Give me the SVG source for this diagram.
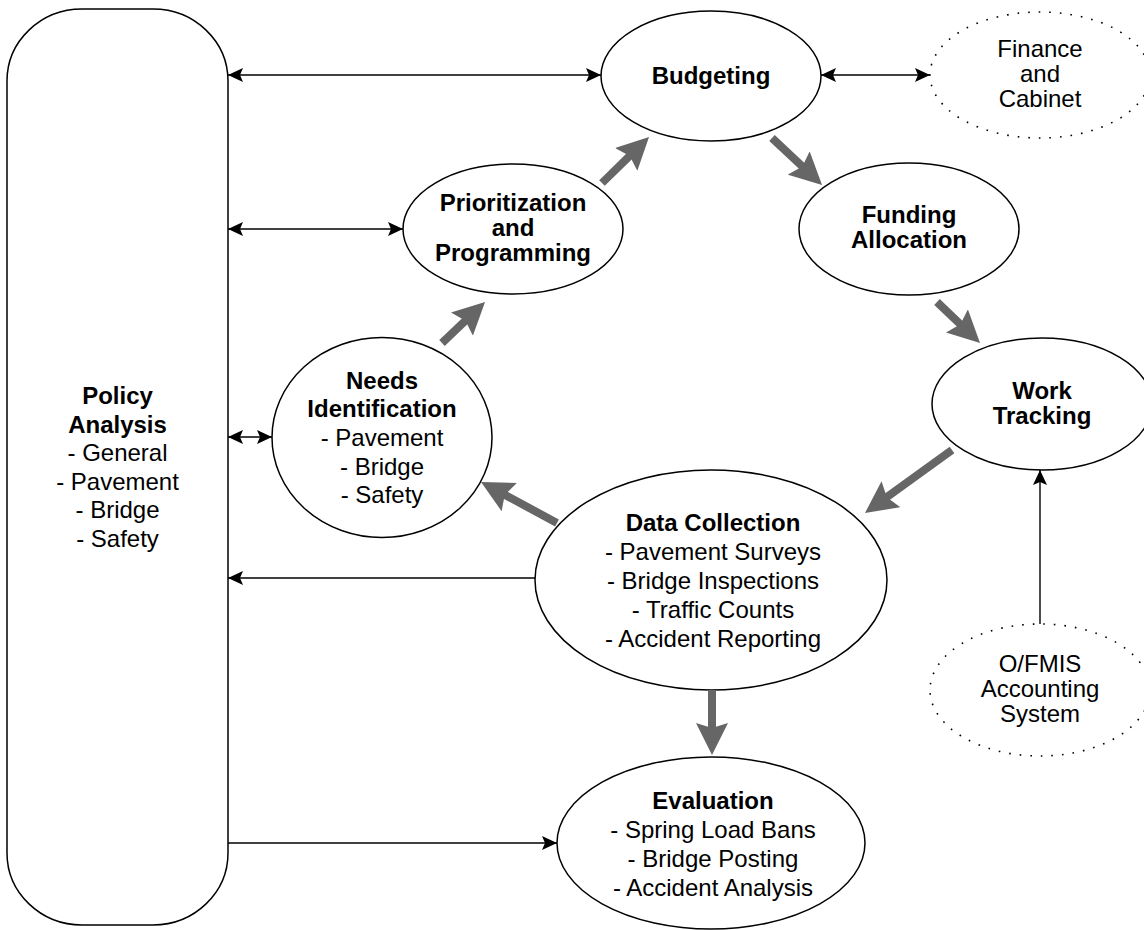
<svg xmlns="http://www.w3.org/2000/svg" width="1144" height="930" viewBox="0 0 1144 930">
<style>
.node{fill:#fff;stroke:#000;stroke-width:1.5}
.dot{fill:#fff;stroke:#000;stroke-width:1.6;stroke-dasharray:1.6 9;stroke-linecap:butt}
text{font-family:"Liberation Sans",Arial,sans-serif;font-size:24px;text-anchor:middle;fill:#000}
.b{font-weight:bold}
.thin{stroke:#000;stroke-width:1.4;fill:none}
.thick{stroke:#666;stroke-width:8;fill:none}
</style>
<defs>
<marker id="ah" viewBox="0 0 15 14" markerWidth="15" markerHeight="14" refX="15" refY="7" orient="auto-start-reverse" markerUnits="userSpaceOnUse">
<path d="M0,0 L15,7 L0,14 L3,7 Z" fill="#000"/>
</marker>
<marker id="gh" viewBox="0 0 32 32" markerWidth="32" markerHeight="32" refX="10" refY="16" orient="auto" markerUnits="userSpaceOnUse">
<path d="M0,0 L32,16 L0,32 L5,16 Z" fill="#666"/>
</marker>
</defs>
<g id="policy">
<rect class="node" x="7" y="9" width="221" height="916" rx="75" ry="72"/>
<text class="b" x="117.5" y="404">Policy</text>
<text class="b" x="117.5" y="432.5">Analysis</text>
<text x="117.5" y="461">- General</text>
<text x="117.5" y="489.5">- Pavement</text>
<text x="117.5" y="518">- Bridge</text>
<text x="117.5" y="546.5">- Safety</text>
</g>
<g id="budgeting">
<ellipse class="node" cx="711" cy="76" rx="110" ry="65"/>
<text class="b" x="711" y="83.5">Budgeting</text>
</g>
<g id="finance">
<ellipse class="dot" cx="1040" cy="75" rx="110" ry="63"/>
<text x="1040" y="57">Finance</text>
<text x="1040" y="82">and</text>
<text x="1040" y="107">Cabinet</text>
</g>
<g id="prioritization">
<ellipse class="node" cx="513" cy="229" rx="110" ry="65"/>
<text class="b" x="513" y="211">Prioritization</text>
<text class="b" x="513" y="236">and</text>
<text class="b" x="513" y="261">Programming</text>
</g>
<g id="funding">
<ellipse class="node" cx="909" cy="229" rx="110" ry="66"/>
<text class="b" x="909" y="223">Funding</text>
<text class="b" x="909" y="248">Allocation</text>
</g>
<g id="work">
<ellipse class="node" cx="1042" cy="404" rx="110" ry="66"/>
<text class="b" x="1042" y="398.5">Work</text>
<text class="b" x="1042" y="423.5">Tracking</text>
</g>
<g id="ofmis">
<ellipse class="dot" cx="1040" cy="690" rx="110" ry="66"/>
<text x="1040" y="672">O/FMIS</text>
<text x="1040" y="697">Accounting</text>
<text x="1040" y="722">System</text>
</g>
<g id="needs">
<ellipse class="node" cx="382" cy="437.5" rx="110" ry="100"/>
<text class="b" x="382" y="388.5">Needs</text>
<text class="b" x="382" y="417">Identification</text>
<text x="382" y="445.5">- Pavement</text>
<text x="382" y="474.5">- Bridge</text>
<text x="382" y="503">- Safety</text>
</g>
<g id="data">
<ellipse class="node" cx="711" cy="580" rx="176" ry="110"/>
<text class="b" x="713" y="530.5">Data Collection</text>
<text x="713" y="559.5">- Pavement Surveys</text>
<text x="713" y="588.5">- Bridge Inspections</text>
<text x="713" y="617.5">- Traffic Counts</text>
<text x="713" y="646.5">- Accident Reporting</text>
</g>
<g id="evaluation">
<ellipse class="node" cx="711" cy="843" rx="154" ry="86"/>
<text class="b" x="713" y="808.5">Evaluation</text>
<text x="713" y="837.5">- Spring Load Bans</text>
<text x="713" y="866.5">- Bridge Posting</text>
<text x="713" y="895.5">- Accident Analysis</text>
</g>
<g id="connectors">
<line class="thin" x1="228" y1="75" x2="601" y2="75" marker-start="url(#ah)" marker-end="url(#ah)"/>
<line class="thin" x1="821" y1="75" x2="930" y2="75" marker-start="url(#ah)" marker-end="url(#ah)"/>
<line class="thin" x1="228" y1="229" x2="403" y2="229" marker-start="url(#ah)" marker-end="url(#ah)"/>
<line class="thin" x1="228" y1="437" x2="272" y2="437" marker-start="url(#ah)" marker-end="url(#ah)"/>
<line class="thin" x1="535" y1="578" x2="228" y2="578" marker-end="url(#ah)"/>
<line class="thin" x1="228" y1="843" x2="557" y2="843" marker-end="url(#ah)"/>
<line class="thin" x1="1040" y1="624" x2="1040" y2="470" marker-end="url(#ah)"/>
<line class="thick" x1="602" y1="183" x2="633.3" y2="152.4" marker-end="url(#gh)"/>
<line class="thick" x1="772" y1="138" x2="806" y2="169.9" marker-end="url(#gh)"/>
<line class="thick" x1="937" y1="302" x2="964.1" y2="327.8" marker-end="url(#gh)"/>
<line class="thick" x1="952" y1="450" x2="882.8" y2="500.1" marker-end="url(#gh)"/>
<line class="thick" x1="557" y1="523" x2="500.4" y2="492.4" marker-end="url(#gh)"/>
<line class="thick" x1="442" y1="343" x2="469.1" y2="317.2" marker-end="url(#gh)"/>
<line class="thick" x1="712" y1="690" x2="712" y2="733" marker-end="url(#gh)"/>
</g>
</svg>
